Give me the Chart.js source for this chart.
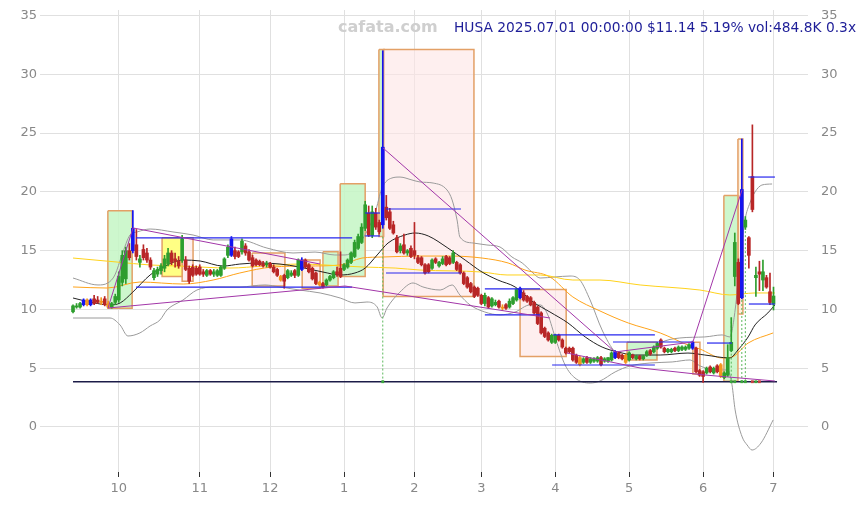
<!DOCTYPE html>
<html>
<head>
<meta charset="utf-8">
<script src="https://cdn.jsdelivr.net/npm/chart.js@4/dist/chart.umd.min.js"></script>
<style>
  html, body { margin: 0; padding: 0; background: #fff; }
</style>
</head>
<body>
<canvas id="chart" width="866" height="505"></canvas>
<script>
// HUSA daily candles, 2024-09-12 .. 2025-07-01, x = trading-day index

const siteName = "cafata.com";
const quoteLine = "HUSA 2025.07.01 00:00:00 $11.14 5.19% vol:484.8K 0.3x";

const monthIdx = [13, 36, 56, 77, 97, 116, 137, 158, 179, 199];
const monthLabels = ["10", "11", "12", "1", "2", "3", "4", "5", "6", "7"];
const priceTicks = [0, 5, 10, 15, 20, 25, 30, 35];

const opens = [
  9.8, 10.2, 10.2, 10.4, 10.8, 10.4, 10.9, 10.8, 10.6, 10.9,
  10.5, 10.2, 10.6, 10.8, 12.3, 12.6, 15.0, 15.0, 15.5, 14.0,
  15.1, 14.8, 14.2, 12.7, 13.0, 13.3, 13.5, 13.9, 14.8, 14.3,
  14.1, 14.2, 14.2, 13.5, 13.6, 13.5, 13.6, 13.2, 12.9, 13.3,
  13.0, 12.9, 12.9, 13.5, 14.6, 14.6, 15.0, 14.9, 14.9, 15.4,
  14.9, 14.4, 14.2, 14.1, 13.9, 13.8, 13.9, 13.6, 13.4, 12.8,
  12.9, 12.7, 12.9, 13.3, 12.9, 13.4, 14.2, 13.8, 13.5, 13.1,
  12.3, 12.2, 12.1, 12.5, 12.7, 13.2, 13.5, 13.4, 13.6, 14.0,
  14.5, 15.2, 15.7, 16.9, 18.2, 16.3, 18.2, 17.4, 17.2, 18.7,
  18.3, 17.2, 16.1, 15.0, 15.5, 14.8, 15.2, 15.0, 14.4, 14.4,
  13.8, 13.8, 13.5, 14.3, 13.7, 13.9, 14.5, 14.4, 14.0, 14.0,
  13.8, 13.1, 12.7, 12.2, 11.9, 11.8, 11.2, 10.5, 11.0, 10.3,
  10.4, 10.7, 10.2, 10.4, 10.2, 10.5, 10.8, 11.0, 11.4, 11.1,
  11.0, 10.6, 10.2, 9.7, 8.4, 8.0, 7.2, 7.2, 7.8, 7.4,
  6.7, 6.7, 6.7, 6.1, 5.9, 5.5, 5.9, 5.5, 5.6, 5.6,
  5.9, 5.6, 5.6, 5.7, 5.9, 6.3, 6.1, 6.1, 5.7, 6.1,
  5.8, 6.0, 5.8, 6.1, 6.5, 6.4, 6.7, 7.4, 6.7, 6.4,
  6.4, 6.7, 6.5, 6.6, 6.6, 6.7, 6.7, 6.7, 4.8, 4.7,
  4.6, 5.1, 4.6, 5.2, 5.3, 4.2, 4.4, 6.5, 12.8, 14.0,
  11.0, 17.0, 16.1, 21.3, 12.7, 13.2, 12.5, 12.7, 11.5, 10.45
];

const highs = [
  10.4, 10.5, 10.6, 10.9, 10.9, 10.9, 11.2, 11.1, 11.0, 11.1,
  10.7, 10.6, 11.3, 13.2, 15.0, 15.3, 15.6, 18.4, 16.8, 14.6,
  15.5, 15.2, 14.4, 13.5, 13.6, 13.9, 14.6, 15.2, 15.0, 14.8,
  14.5, 16.3, 14.5, 13.7, 13.8, 13.7, 13.8, 13.4, 13.4, 13.4,
  13.4, 13.4, 13.7, 14.4, 15.5, 16.2, 15.3, 15.0, 16.0, 15.6,
  15.1, 14.6, 14.3, 14.2, 14.1, 14.1, 14.0, 13.8, 13.5, 12.9,
  13.0, 13.4, 13.3, 13.4, 14.3, 14.4, 14.3, 13.9, 13.6, 13.2,
  12.4, 12.3, 12.6, 12.9, 13.3, 13.6, 14.9, 13.9, 14.3, 14.9,
  15.9, 16.4, 17.3, 19.2, 18.8, 18.8, 18.6, 17.6, 32.0, 19.7,
  18.6, 17.5, 16.3, 15.6, 16.4, 15.1, 15.4, 17.4, 14.6, 14.5,
  13.9, 13.9, 14.3, 14.4, 14.1, 14.5, 14.6, 14.5, 15.0, 14.1,
  13.9, 13.2, 12.8, 12.3, 12.0, 11.9, 11.3, 11.4, 11.1, 11.0,
  10.8, 10.8, 10.4, 10.5, 10.9, 11.1, 11.8, 11.9, 11.6, 11.2,
  11.1, 10.7, 10.3, 9.8, 8.5, 8.1, 7.9, 7.9, 7.9, 7.5,
  6.8, 6.8, 6.8, 6.2, 6.0, 5.9, 6.0, 5.9, 5.9, 6.0,
  6.0, 5.9, 5.9, 6.4, 6.5, 6.4, 6.2, 6.2, 6.4, 6.2,
  6.1, 6.1, 6.1, 6.5, 6.6, 6.9, 7.2, 7.5, 6.8, 6.7,
  6.7, 6.8, 6.9, 6.9, 6.9, 7.1, 7.3, 6.8, 4.9, 4.8,
  5.1, 5.2, 5.1, 5.3, 5.4, 4.7, 7.0, 9.3, 16.5, 14.3,
  24.5, 17.9, 16.2, 25.7, 13.6, 14.1, 14.2, 12.9, 13.1, 11.9
];

const lows = [
  9.7, 10.1, 10.1, 10.3, 10.3, 10.3, 10.4, 10.5, 10.4, 10.3,
  10.1, 10.1, 10.4, 10.6, 12.0, 12.2, 14.2, 14.8, 14.2, 13.6,
  14.2, 14.0, 13.4, 12.5, 12.8, 13.0, 13.2, 13.7, 13.8, 13.6,
  13.5, 14.0, 13.3, 12.2, 12.8, 12.9, 12.9, 12.8, 12.8, 12.9,
  12.8, 12.8, 12.8, 13.4, 14.4, 14.5, 14.3, 14.4, 14.7, 14.6,
  14.1, 13.6, 13.7, 13.7, 13.6, 13.6, 13.5, 13.1, 12.8, 12.4,
  11.8, 12.6, 12.8, 12.7, 12.8, 13.3, 13.5, 13.1, 12.5, 12.1,
  12.0, 11.8, 12.0, 12.4, 12.6, 12.8, 12.7, 13.3, 13.5, 13.9,
  14.4, 15.1, 15.6, 16.7, 16.2, 16.1, 16.8, 16.4, 16.9, 17.6,
  16.8, 16.4, 14.8, 14.8, 14.7, 14.6, 14.4, 14.3, 13.9, 13.7,
  13.0, 13.1, 13.4, 13.9, 13.6, 13.8, 13.7, 13.8, 13.9, 13.3,
  13.0, 12.1, 11.8, 11.4, 11.0, 11.1, 10.4, 10.3, 10.1, 10.2,
  10.3, 10.1, 9.9, 10.0, 10.1, 10.4, 10.7, 10.9, 10.7, 10.6,
  10.3, 9.6, 8.7, 7.9, 7.6, 7.3, 7.1, 7.1, 7.3, 6.7,
  6.2, 6.3, 5.6, 5.4, 5.2, 5.4, 5.4, 5.4, 5.5, 5.5,
  5.2, 5.5, 5.5, 5.6, 5.8, 5.8, 5.7, 5.4, 5.6, 5.8,
  5.7, 5.7, 5.7, 6.0, 6.1, 6.3, 6.6, 6.7, 6.3, 6.3,
  6.3, 6.4, 6.4, 6.5, 6.5, 6.6, 6.6, 4.6, 4.3, 3.8,
  4.5, 4.6, 4.5, 4.6, 4.2, 4.1, 4.3, 6.4, 12.0, 10.4,
  10.9, 16.8, 13.5, 18.3, 11.1, 11.6, 11.6, 11.8, 10.4, 9.95
];

const closes = [
  10.3, 10.3, 10.5, 10.8, 10.4, 10.8, 10.5, 10.6, 10.7, 10.4,
  10.2, 10.5, 11.1, 12.8, 14.6, 15.0, 14.4, 16.9, 14.5, 14.3,
  14.4, 14.2, 13.6, 13.3, 13.4, 13.7, 14.3, 14.8, 14.0, 14.1,
  13.7, 16.0, 13.4, 12.4, 12.9, 13.0, 13.0, 13.0, 13.3, 13.0,
  13.2, 13.3, 13.6, 14.3, 15.3, 16.0, 14.5, 14.5, 15.8, 14.8,
  14.2, 13.7, 13.8, 13.8, 13.7, 13.9, 13.6, 13.2, 12.9, 12.5,
  12.4, 13.3, 13.1, 12.9, 14.2, 14.2, 13.6, 13.2, 12.6, 12.2,
  12.1, 11.9, 12.5, 12.8, 13.2, 13.0, 12.8, 13.8, 14.2, 14.8,
  15.7, 16.2, 17.0, 18.9, 16.3, 18.3, 17.0, 16.6, 23.8, 17.8,
  16.9, 16.5, 14.9, 15.4, 14.8, 15.0, 14.5, 14.6, 14.0, 13.8,
  13.1, 13.2, 14.2, 14.0, 14.0, 14.3, 13.8, 13.9, 14.8, 13.4,
  13.1, 12.2, 11.9, 11.5, 11.1, 11.2, 10.5, 11.2, 10.2, 10.9,
  10.6, 10.2, 10.1, 10.1, 10.7, 11.0, 11.7, 11.8, 10.8, 10.7,
  10.4, 9.7, 8.8, 8.0, 7.7, 7.4, 7.8, 7.8, 7.4, 6.8,
  6.3, 6.4, 5.7, 5.5, 5.3, 5.8, 5.5, 5.8, 5.8, 5.9,
  5.3, 5.8, 5.9, 6.3, 6.4, 5.9, 5.8, 5.5, 6.3, 5.9,
  6.0, 5.8, 6.0, 6.4, 6.2, 6.8, 7.1, 6.8, 6.4, 6.6,
  6.6, 6.5, 6.8, 6.8, 6.8, 7.0, 7.2, 4.7, 4.4, 4.3,
  5.0, 4.7, 5.0, 4.7, 4.3, 4.6, 5.9, 7.2, 15.7, 10.5,
  20.2, 17.6, 14.6, 18.5, 12.9, 13.0, 13.2, 11.9, 10.59, 11.14
];

// bars flagged by the source with their own colour
const blueBars = [3, 5, 17, 45, 65, 88, 127, 154, 176, 190];
const orangeBars = [4, 8, 10, 59, 70, 122, 144, 157, 184];

// [fromIdx, toIdx, top, bottom, kind]
const boxes = [
  [88.1, 113.9, 32.1, 11.1, "down"],
  [9.9, 16.8, 18.4, 10.1, "up"],
  [25.3, 31.0, 16.1, 12.8, "wait"],
  [31.0, 34.1, 16.1, 12.4, "down"],
  [50.9, 60.2, 14.8, 12.0, "down"],
  [65.1, 70.2, 14.2, 11.8, "down"],
  [71.0, 75.3, 14.9, 12.0, "up"],
  [75.9, 83.0, 20.7, 12.8, "up"],
  [86.9, 88.4, 32.1, 16.2, "up"],
  [127.0, 140.1, 11.7, 6.0, "down"],
  [157.4, 165.9, 7.2, 5.7, "up"],
  [176.1, 178.1, 7.2, 4.5, "down"],
  [184.9, 188.9, 19.7, 3.9, "up"],
  [188.9, 190.3, 24.5, 9.6, "peak"]
];

// [fromIdx, toIdx, price]
const blueLevels = [
  [17.9, 79.3, 16.08], [17.9, 79.3, 11.9],
  [83.0, 87.2, 18.2], [83.0, 87.2, 16.25],
  [88.9, 110.2, 18.54], [88.9, 110.2, 13.1],
  [117.0, 132.7, 11.74], [117.0, 132.7, 9.53],
  [136.4, 165.3, 7.83], [136.1, 165.3, 5.27],
  [153.4, 176.1, 7.23], [180.1, 187.2, 7.14],
  [191.8, 199.4, 21.26], [192.0, 199.4, 10.46]
];

const supportLine = [[0, 3.85], [200, 3.85]];

const trendLines = [
  [[9.94, 10.12], [17.05, 16.93]],
  [[17.05, 16.93], [70.2, 13.86]],
  [[9.94, 10.12], [77.27, 11.99]],
  [[77.27, 11.99], [135.5, 9.27]],
  [[88.07, 23.73], [153.98, 6.38]],
  [[153.98, 6.38], [176.1, 7.23]],
  [[176.1, 7.23], [190.06, 20.16]],
  [[140.3, 6.29], [161.1, 5.02], [179.5, 4.42], [199.4, 3.91]]
];

const maShort = [
  [0, 10.97], [4.8, 10.63], [10.5, 10.38], [13.4, 10.55], [17.0, 11.48], [21.9, 12.93],
  [25.6, 13.61], [31.3, 14.2], [36.1, 14.12], [42.6, 13.69], [47.4, 13.86], [53.1, 13.95],
  [58.8, 13.86], [64.3, 13.61], [71.0, 13.18], [75.9, 12.93], [80.1, 13.1], [83.0, 13.52],
  [86.4, 14.63], [89.5, 15.65], [94.3, 16.33], [97.2, 16.5], [100.9, 16.25], [106.5, 15.22],
  [111.4, 14.2], [116.2, 13.18], [120.7, 12.5], [125.6, 11.91], [130.7, 10.63], [135.5, 9.78],
  [140.6, 8.85], [145.5, 7.66], [150.3, 6.8], [154.8, 6.38], [159.7, 6.12], [166.8, 6.12],
  [174.7, 6.29], [179.5, 6.12], [186.6, 5.87], [188.9, 6.55], [191.8, 7.66], [193.75, 8.68],
  [197.4, 9.7], [199.4, 10.38]
];

const maMid = [
  [0, 11.91], [9.7, 11.82], [19.0, 12.33], [31.3, 12.16], [39.8, 12.5], [47.4, 13.1],
  [56.8, 13.61], [66.5, 13.69], [75.9, 13.78], [82.1, 14.37], [88.1, 14.46], [98.6, 14.54],
  [107.1, 14.54], [116.2, 14.37], [123.6, 13.95], [128.4, 13.35], [135.5, 12.76], [142.0, 11.06],
  [149.7, 9.87], [157.7, 8.85], [166.8, 8.0], [174.7, 6.97], [178.1, 6.63], [184.4, 5.87],
  [187.2, 5.95], [191.8, 7.14], [198.9, 8.0]
];

const maLong = [
  [0, 14.37], [12.5, 14.03], [21.9, 13.78], [30.4, 13.69], [44.6, 13.52], [54.0, 13.69],
  [64.3, 13.86], [71.6, 13.78], [82.1, 13.61], [91.5, 13.52], [98.6, 13.35], [116.2, 13.18],
  [123.3, 12.93], [132.7, 12.93], [142.0, 12.5], [149.7, 12.5], [161.1, 12.08], [178.1, 11.65],
  [186.6, 11.23], [193.75, 11.4], [199.4, 11.4]
];

const bandUpper = [
  [0, 12.67], [7.1, 12.08], [9.9, 12.25], [11.9, 12.93], [13.9, 14.63], [16.2, 16.33],
  [18.2, 16.59], [21.9, 16.84], [28.4, 16.59], [34.1, 16.33], [39.8, 15.91], [47.4, 15.91],
  [55.1, 15.22], [62.5, 14.8], [68.75, 14.88], [74.4, 14.63], [77.3, 14.63], [80.1, 15.05],
  [82.1, 15.91], [84.4, 17.18], [85.8, 18.2], [87.8, 20.33], [90.6, 21.18], [92.9, 21.26],
  [96.3, 21.01], [98.6, 20.84], [102.3, 20.75], [106.25, 20.16], [107.7, 19.31], [109.1, 17.61],
  [109.9, 16.16], [113.6, 15.65], [117.6, 15.48], [121.3, 15.31], [124.7, 14.46], [127.6, 13.95],
  [130.4, 13.18], [132.7, 12.67], [136.9, 12.76], [141.2, 12.84], [144.0, 12.5], [146.9, 10.8],
  [150.3, 8.25], [154.0, 6.38], [156.8, 6.04], [162.5, 6.04], [166.8, 7.14], [172.4, 7.57],
  [179.5, 7.66], [184.4, 7.83], [186.6, 7.66], [188.1, 9.95], [189.5, 14.2], [190.9, 17.61],
  [192.3, 19.05], [193.75, 19.99], [195.7, 20.58], [198.6, 20.67]
];

const bandLower = [
  [0, 9.27], [7.1, 9.27], [10.5, 9.27], [13.35, 8.68], [15.6, 7.74], [19.0, 8.0],
  [21.9, 8.59], [24.7, 9.1], [26.7, 9.95], [31.25, 10.8], [35.2, 11.65], [40.3, 11.91],
  [47.4, 11.91], [54.5, 12.08], [58.8, 11.91], [64.3, 11.65], [70.2, 11.4], [75.9, 10.97],
  [80.1, 10.55], [83.5, 10.63], [86.4, 10.21], [87.8, 9.27], [89.2, 10.12], [92.9, 11.48],
  [96.6, 12.25], [99.4, 11.91], [104.3, 11.65], [107.7, 12.08], [109.9, 11.23], [112.8, 10.38],
  [117.0, 9.78], [121.3, 9.53], [125.6, 9.78], [129.8, 10.38], [132.7, 10.38], [134.9, 9.53],
  [137.2, 7.4], [139.8, 5.27], [142.6, 4.17], [146.9, 3.74], [149.7, 3.91], [154.0, 4.68],
  [158.2, 5.19], [163.9, 5.44], [170.2, 5.53], [175.3, 5.7], [178.1, 5.2], [182.4, 4.85],
  [186.0, 4.85], [187.2, 3.6], [188.1, 1.45], [190.1, -0.85], [191.5, -1.53], [192.9, -1.96],
  [195.45, -1.36], [198.9, 0.6]
];

// signal markers resting on the support line: [idx, from price]
const signalDrops = [[88, 16.2], [187, 9.3], [190, 10.8], [191, 17.0]];
const buyMarks = [88, 187, 188, 190, 191, 194];
const sellMarks = [193, 195];

// ---------------------------------------------------------

const UP = "#2e9e2e";
const DOWN = "#b82626";
const BLUE = "#1414f0";
const ORANGE = "#f5961e";

const boxFill = {
  up: "rgba(196, 246, 196, 0.85)",
  down: "rgba(253, 228, 228, 0.6)",
  wait: "rgba(255, 255, 110, 0.85)",
  peak: "rgba(252, 236, 214, 0.8)",
};

const candleColors = closes.map((c, i) => {
  if (blueBars.includes(i)) return BLUE;
  if (orangeBars.includes(i)) return ORANGE;
  return c >= opens[i] ? UP : DOWN;
});

const toPts = (arr) => arr.map((p) => ({ x: p[0], y: p[1] }));

function lineSet(pts, color, width, order, smooth) {
  return {
    type: "line",
    data: toPts(pts),
    borderColor: color,
    borderWidth: width,
    pointRadius: 0,
    fill: false,
    order,
    cubicInterpolationMode: smooth ? "monotone" : "default",
    tension: 0,
  };
}

const datasets = [];

boxes.forEach((b) => {
  datasets.push({
    type: "line",
    data: toPts([[b[0], b[2]], [b[1], b[2]], [b[1], b[3]], [b[0], b[3]], [b[0], b[2]]]),
    borderColor: "#e3a066",
    borderWidth: 1.5,
    backgroundColor: boxFill[b[4]],
    fill: "shape",
    pointRadius: 0,
    tension: 0,
    order: 30,
  });
});

datasets.push(lineSet(bandUpper, "#9a9a9a", 1, 12, true));
datasets.push(lineSet(bandLower, "#9a9a9a", 1, 12, true));
datasets.push(lineSet(maLong, "#ffd21a", 1, 11, true));
datasets.push(lineSet(maMid, "#ffa31a", 1, 11, true));
datasets.push(lineSet(maShort, "#222222", 1, 10, true));

datasets.push(lineSet(supportLine, "#1c1c48", 1.5, 9, false));

signalDrops.forEach((s) => {
  const d = lineSet([[s[0], s[1]], [s[0], supportLine[0][1]]], "#5cb85c", 1, 8, false);
  d.borderDash = [2, 2];
  datasets.push(d);
});

datasets.push({
  type: "bar",
  data: closes.map((c, i) => ({ x: i, y: [lows[i], highs[i]] })),
  backgroundColor: candleColors,
  barThickness: 1,
  grouped: false,
  order: 6,
});
datasets.push({
  type: "bar",
  data: closes.map((c, i) => ({ x: i, y: [opens[i], c] })),
  backgroundColor: candleColors,
  barThickness: 3,
  minBarLength: 1,
  grouped: false,
  order: 5,
});

blueLevels.forEach((l) => {
  datasets.push(lineSet([[l[0], l[2]], [l[1], l[2]]], "#2626ee", 1.2, 4, false));
});

trendLines.forEach((t) => {
  datasets.push(lineSet(t, "#a236a8", 1, 3, false));
});

datasets.push({
  type: "line",
  data: buyMarks.map((i) => ({ x: i, y: supportLine[0][1] })),
  showLine: false,
  pointStyle: "rect",
  pointRadius: 2,
  pointBackgroundColor: "#3aa63a",
  pointBorderWidth: 0,
  order: 2,
});
datasets.push({
  type: "line",
  data: sellMarks.map((i) => ({ x: i, y: supportLine[0][1] })),
  showLine: false,
  pointStyle: "rect",
  pointRadius: 2,
  pointBackgroundColor: "#c84040",
  pointBorderWidth: 0,
  order: 2,
});

const headerText = {
  id: "headerText",
  afterDraw(chart) {
    const ctx = chart.ctx;
    ctx.save();
    ctx.textBaseline = "alphabetic";
    ctx.font = 'bold 16px "DejaVu Sans"';
    ctx.fillStyle = "#cfcfcf";
    ctx.fillText(siteName, 338, 32);
    ctx.font = '13.8px "DejaVu Sans"';
    ctx.fillStyle = "#1e1e98";
    ctx.fillText(quoteLine, 454, 32);
    ctx.restore();
  },
};

const tickFont = { family: "DejaVu Sans", size: 13 };
const Y_MIN = -3.83;
const Y_MAX = 35.47;

// labels near the ends of the price axis must not push the plot inward
function fitPriceAxis(width) {
  return (s) => {
    s.width = width;
    s.paddingTop = 0;
    s.paddingBottom = 0;
  };
}

new Chart(document.getElementById("chart").getContext("2d"), {
  type: "line",
  data: { datasets },
  plugins: [headerText],
  options: {
    responsive: false,
    animation: false,
    devicePixelRatio: 1,
    events: [],
    layout: { padding: { top: 10, left: 0, right: 0, bottom: 0 } },
    plugins: {
      legend: { display: false },
      tooltip: { enabled: false },
    },
    scales: {
      x: {
        type: "linear",
        min: -9.38,
        max: 208.8,
        offset: false,
        border: { display: false },
        grid: { color: "#e0e0e0", tickColor: "#333", tickLength: 5, offset: false },
        ticks: {
          font: tickFont,
          color: "#888",
          padding: 4,
          autoSkip: false,
          maxRotation: 0,
          callback: (v, i) => monthLabels[i],
        },
        afterBuildTicks: (s) => { s.ticks = monthIdx.map((v) => ({ value: v })); },
        afterFit: (s) => { s.height = 33; s.paddingLeft = 0; s.paddingRight = 0; },
      },
      y: {
        type: "linear",
        position: "left",
        min: Y_MIN,
        max: Y_MAX,
        border: { display: false },
        grid: { color: "#e0e0e0", drawTicks: false },
        ticks: { font: tickFont, color: "#888", padding: 3 },
        afterBuildTicks: (s) => { s.ticks = priceTicks.map((v) => ({ value: v })); },
        afterFit: fitPriceAxis(40),
      },
      y2: {
        type: "linear",
        position: "right",
        display: true,
        min: Y_MIN,
        max: Y_MAX,
        border: { display: false },
        grid: { display: false, drawTicks: false },
        ticks: { font: tickFont, color: "#888", padding: 13 },
        afterBuildTicks: (s) => { s.ticks = priceTicks.map((v) => ({ value: v })); },
        afterFit: fitPriceAxis(58),
      },
    },
  },
});
</script>
</body>
</html>
